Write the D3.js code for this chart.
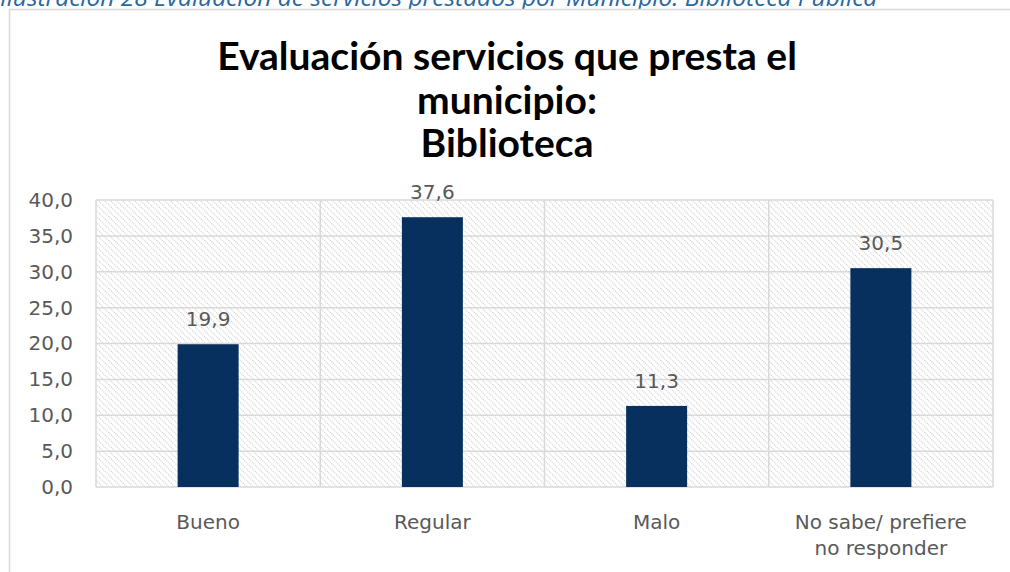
<!DOCTYPE html>
<html><head><meta charset="utf-8">
<script src="https://cdn.jsdelivr.net/npm/d3@7"></script>
<style>html,body{margin:0;padding:0;background:#fff;overflow:hidden}</style>
</head><body>
<svg id="c" width="1010" height="572"></svg>
<script>
const categories = ["Bueno", "Regular", "Malo", "No sabe/ prefiere\nno responder"];
const values = [19.9, 37.6, 11.3, 30.5];
const yTicks = [0, 5, 10, 15, 20, 25, 30, 35, 40];
const titleLines = ["Evaluación servicios que presta el", "municipio:", "Biblioteca"];
const caption = "Ilustración 28 Evaluación de servicios prestados por Municipio: Biblioteca Pública";

(function () {
const svg = d3.select("#c");
const font = "'DejaVu Sans', sans-serif";
const grid = "#d9d9d9";
const textCol = "#595959";

const cap = svg.append("text").attr("x", 0).attr("y", 6)
  .attr("font-family", "'Open Sans', 'DejaVu Sans', sans-serif").attr("font-style", "italic")
  .attr("font-size", 17).attr("fill", "#2a679f").text(caption);
const cw = cap.node().getComputedTextLength();
cap.attr("font-size", 17 * 878 / cw);

svg.append("rect").attr("x", 9.5).attr("y", 9.5).attr("width", 1010).attr("height", 600)
  .attr("fill", "#fff").attr("stroke", grid).attr("stroke-width", 1.5);

const defs = svg.append("defs");
const pat = defs.append("pattern").attr("id", "hatch").attr("patternUnits", "userSpaceOnUse")
  .attr("width", 6).attr("height", 6);
pat.append("rect").attr("width", 6).attr("height", 6).attr("fill", "#fff");
pat.append("path").attr("d", "M0,0 L6,6 M-1,5 L1,7 M5,-1 L7,1")
  .attr("stroke", "#d6d6d6").attr("stroke-width", 1.2).attr("stroke-dasharray", "1.2,0.9");

const pL = 96, pR = 993, pT = 200, pB = 487;
const x = d3.scaleBand().domain(categories).range([pL, pR]).paddingInner(0).paddingOuter(0);
const y = d3.scaleLinear().domain([0, 40]).range([pB, pT]);

svg.append("rect").attr("x", pL).attr("y", pT).attr("width", pR - pL).attr("height", pB - pT)
  .attr("fill", "url(#hatch)");

svg.append("g").selectAll("line").data(yTicks).join("line")
  .attr("x1", pL).attr("x2", pR).attr("y1", d => y(d)).attr("y2", d => y(d))
  .attr("stroke", grid).attr("stroke-width", 1.5);
const vx = categories.map(c => x(c)).concat([pR]);
svg.append("g").selectAll("line").data(vx).join("line")
  .attr("x1", d => d).attr("x2", d => d).attr("y1", pT).attr("y2", pB)
  .attr("stroke", grid).attr("stroke-width", 1.5);

const yAxis = d3.axisLeft(y).tickValues(yTicks).tickSize(0).tickPadding(0)
  .tickFormat(d => d3.format(".1f")(d).replace(".", ","));
const ya = svg.append("g").attr("transform", `translate(${pL - 23},0)`).call(yAxis);
ya.select(".domain").remove();
ya.selectAll("text").attr("font-family", font).attr("font-size", 20).attr("fill", textCol);

const barW = 61;
svg.append("g").selectAll("rect").data(values).join("rect")
  .attr("x", (d, i) => x(categories[i]) + x.bandwidth() / 2 - barW / 2)
  .attr("y", d => y(d)).attr("width", barW).attr("height", d => pB - y(d))
  .attr("fill", "#08305e");

svg.append("g").selectAll("text").data(values).join("text")
  .attr("x", (d, i) => x(categories[i]) + x.bandwidth() / 2)
  .attr("y", d => y(d) - 18).attr("text-anchor", "middle")
  .attr("font-family", font).attr("font-size", 20).attr("fill", textCol)
  .text(d => d3.format(".1f")(d).replace(".", ","));

categories.forEach(c => {
  const cx = x(c) + x.bandwidth() / 2;
  const t = svg.append("text").attr("x", cx).attr("y", 529)
    .attr("text-anchor", "middle").attr("font-family", font).attr("font-size", 20).attr("fill", textCol);
  c.split("\n").forEach((ln, i) => t.append("tspan").attr("x", cx).attr("y", 529 + i * 26).text(ln));
});

const tys = [70, 114, 157];
const tt = titleLines.map((ln, i) => svg.append("text").attr("x", 507).attr("y", tys[i])
  .attr("text-anchor", "middle").attr("font-family", "'Lato', 'DejaVu Sans', sans-serif").attr("font-weight", "bold")
  .attr("font-size", 35).attr("fill", "#000").text(ln));
const w = tt[0].node().getComputedTextLength();
const fs = 35 * 580 / w;
tt.forEach(t => t.attr("font-size", fs));
})();
</script>
</body></html>
